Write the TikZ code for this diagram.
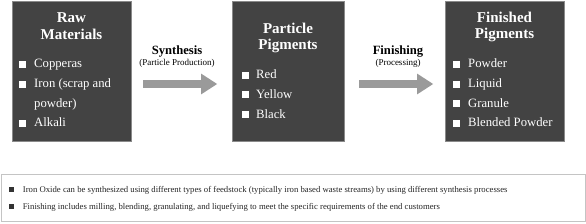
\documentclass[tikz,border=0pt]{standalone}
\usepackage{fontspec}
\setmainfont{Liberation Serif}
\usetikzlibrary{arrows.meta}
\definecolor{boxfill}{HTML}{434343}
\definecolor{boxedge}{HTML}{8A8A8A}
\definecolor{arrowgray}{HTML}{9A9A9A}
\definecolor{noteedge}{HTML}{C4C4C4}
\definecolor{notebullet}{HTML}{333333}
\begin{document}
\begin{tikzpicture}[x=1pt,y=-1pt,
  darkbox/.style={draw=boxedge,fill=boxfill,line width=0.8pt},
  boxtitle/.style={text=white,font=\fontsize{15}{16.5}\selectfont\bfseries,align=center,inner sep=0pt,anchor=base},
  itemtext/.style={text=white,font=\fontsize{12.7}{15}\selectfont,inner sep=0pt,anchor=base west},
  wbullet/.style={fill=white,draw=none,minimum size=7pt,inner sep=0pt,anchor=south west},
  flowarrow/.style={draw=arrowgray,line width=8pt,-{Triangle[length=16.3pt,width=19.7pt]}},
  steplabel/.style={font=\fontsize{12.6}{14}\selectfont\bfseries,inner sep=0pt,anchor=base},
  substeplabel/.style={font=\fontsize{9}{10}\selectfont,inner sep=0pt,anchor=base},
  notetext/.style={font=\fontsize{8.7}{10}\selectfont,inner sep=0pt,anchor=base west,text=black!85},
  nbullet/.style={fill=notebullet,draw=none,minimum size=4.6pt,inner sep=0pt}
]
\useasboundingbox (0,0) rectangle (586,224);
\fill[white] (0,0) rectangle (586,224);

% boxes
\draw[darkbox] (12,1) rectangle (131,141);
\draw[darkbox] (232,1) rectangle (344,141);
\draw[darkbox] (445,1) rectangle (564,141);
\node[inner sep=0pt] (rawbox) at (71.5,71) {};
\node[inner sep=0pt] (partbox) at (288,71) {};
\node[inner sep=0pt] (finbox) at (504.5,71) {};

% titles (anchor base = baseline of the last line)
\node[boxtitle] (t1) at (71.5,39.5) {Raw\\Materials};
\node[boxtitle] (t2) at (288,50) {Particle\\Pigments};
\node[boxtitle] (t3) at (504.5,39) {Finished\\Pigments};

% box 1 items
\node[wbullet] (b11) at (19,68) {};
\node[itemtext] (i11) at (34,68) {Copperas};
\node[wbullet] (b12) at (19,88) {};
\node[itemtext] (i12) at (34,88) {Iron (scrap and};
\node[itemtext] (i12b) at (34,107.5) {powder)};
\node[wbullet] (b13) at (19,127) {};
\node[itemtext] (i13) at (34,127) {Alkali};

% box 2 items
\node[wbullet] (b21) at (241.5,79) {};
\node[itemtext] (i21) at (256,79) {Red};
\node[wbullet] (b22) at (241.5,98.7) {};
\node[itemtext] (i22) at (256,98.7) {Yellow};
\node[wbullet] (b23) at (241.5,118.3) {};
\node[itemtext] (i23) at (256,118.3) {Black};

% box 3 items
\node[wbullet] (b31) at (453,68) {};
\node[itemtext] (i31) at (468,68) {Powder};
\node[wbullet] (b32) at (453,88) {};
\node[itemtext] (i32) at (468,88) {Liquid};
\node[wbullet] (b33) at (453,107.5) {};
\node[itemtext] (i33) at (468,107.5) {Granule};
\node[wbullet] (b34) at (453,127) {};
\node[itemtext] (i34) at (468,127) {Blended Powder};

% arrows
\coordinate (a1s) at (143,84);
\coordinate (a1e) at (217.3,84);
\coordinate (a2s) at (359,84);
\coordinate (a2e) at (433.3,84);
\draw[flowarrow] (a1s) -- (a1e);
\draw[flowarrow] (a2s) -- (a2e);
\node[steplabel] (s1) at (177,54.5) {Synthesis};
\node[substeplabel] (s1b) at (177,65.5) {(Particle Production)};
\node[steplabel] (s2) at (398,54.5) {Finishing};
\node[substeplabel] (s2b) at (398,65.5) {(Processing)};

% notes
\draw[noteedge,line width=0.7pt] (1,174.5) rectangle (585,221);
\node[nbullet] (n1) at (11.2,189.5) {};
\node[notetext] (nt1) at (22.7,192.4) {Iron Oxide can be synthesized using different types of feedstock (typically iron based waste streams) by using different synthesis processes};
\node[nbullet] (n2) at (11.2,206.7) {};
\node[notetext] (nt2) at (22.7,209.6) {Finishing includes milling, blending, granulating, and liquefying to meet the specific requirements of the end customers};
\end{tikzpicture}
\end{document}
